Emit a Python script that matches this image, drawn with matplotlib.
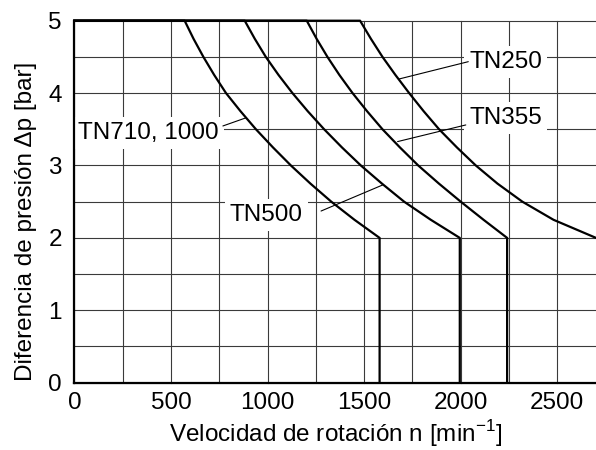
import matplotlib.pyplot as plt

plt.rcParams['font.family'] = ['Liberation Sans', 'DejaVu Sans']
plt.rcParams['mathtext.fontset'] = 'custom'
plt.rcParams['mathtext.rm'] = 'Liberation Sans'

# pressure difference levels (bar) at which the speeds were read
pressure = [5, 5, 4.75, 4.5, 4.25, 4, 3.75, 3.5, 3.25, 3, 2.75, 2.5, 2.25, 2, 0]
pressure_tn250 = pressure[:-1]

# rotation speed (1/min) of each curve at those levels
speed_tn710 = [0, 571, 617, 668, 724, 785, 860, 940, 1028, 1121, 1222, 1330, 1450, 1580, 1580]
speed_tn500 = [0, 882, 934, 991, 1057, 1129, 1208, 1293, 1385, 1483, 1592, 1707, 1845, 1995, 1995]
speed_tn355 = [0, 1203, 1254, 1310, 1372, 1440, 1515, 1595, 1685, 1780, 1887, 2000, 2118, 2240, 2240]
speed_tn250 = [0, 1479, 1535, 1595, 1662, 1733, 1808, 1888, 1980, 2078, 2190, 2319, 2480, 2700]

x_ticks = [0, 500, 1000, 1500, 2000, 2500]
y_ticks = [0, 1, 2, 3, 4, 5]

# label text, text anchor, alignment, leader start, point on curve
labels = [
    ('TN250', (2044, 4.43), 'left', (2039, 4.434), (1681, 4.195)),
    ('TN355', (2044, 3.656), 'left', (2026, 3.56), (1673, 3.33)),
    ('TN710, 1000', (749, 3.445), 'right', (769, 3.546), (890, 3.66)),
    ('TN500', (1182, 2.316), 'right', (1277, 2.371), (1595, 2.73)),
]

fig = plt.figure(figsize=(5.96, 4.5), dpi=100)
ax = fig.add_axes([0.1247, 0.1496, 0.8753, 0.8044])

for xs, ys in [(speed_tn710, pressure), (speed_tn500, pressure),
               (speed_tn355, pressure), (speed_tn250, pressure_tn250)]:
    ax.plot(xs, ys, color='black', lw=1.6, zorder=3, clip_on=False,
            solid_joinstyle='round')

for text, pos, ha, start, end in labels:
    ax.text(pos[0], pos[1], text, ha=ha, va='center', fontsize=17.5, zorder=2.5,
            bbox=dict(boxstyle='square,pad=0.2', fc='white', ec='none'))
    ax.annotate('', xy=end, xytext=start, zorder=2.6,
                arrowprops=dict(arrowstyle='-', lw=0.8, color='black',
                                shrinkA=0, shrinkB=0))

ax.set_xlim(0, 2700)
ax.set_ylim(0, 5)
ax.set_xticks(x_ticks)
ax.set_xticks(range(250, 2700, 500), minor=True)
ax.set_yticks(y_ticks)
ax.set_yticks([0.5, 1.5, 2.5, 3.5, 4.5], minor=True)
ax.grid(which='both', color='#3a3a3a', lw=0.8, zorder=1)
ax.set_axisbelow(True)
for line in ax.get_ygridlines() + ax.get_xgridlines():
    line.set_clip_on(False)

ax.tick_params(which='both', length=0, labelsize=17.5)
ax.tick_params(axis='y', pad=9)
ax.tick_params(axis='x', pad=7)

for side in ['top', 'right']:
    ax.spines[side].set_visible(False)
for side in ['left', 'bottom']:
    ax.spines[side].set_linewidth(1.6)

ax.set_xlabel(r'Velocidad de rotación n [min$^{\mathregular{-1}}$]', fontsize=17.5, labelpad=3)
ax.set_ylabel('Diferencia de presión Δp [bar]', fontsize=17.5)
ax.yaxis.set_label_coords(-0.072, 0.445)

fig.savefig('out.png', dpi=100)
